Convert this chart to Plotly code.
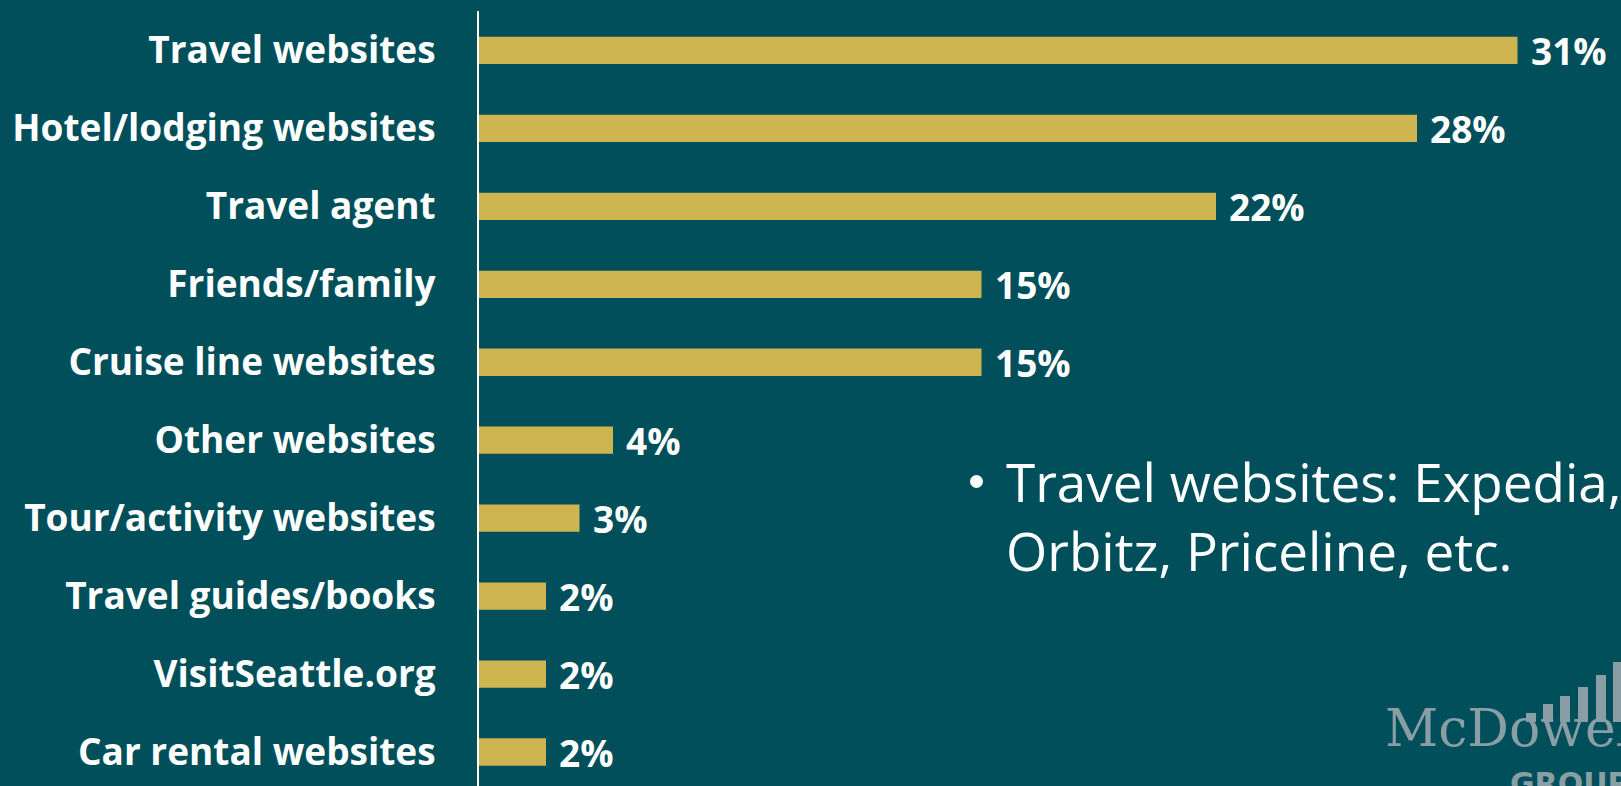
import plotly.graph_objects as go

categories = ["Travel websites", "Hotel/lodging websites", "Travel agent", "Friends/family",
              "Cruise line websites", "Other websites", "Tour/activity websites",
              "Travel guides/books", "VisitSeattle.org", "Car rental websites"]
values = [31, 28, 22, 15, 15, 4, 3, 2, 2, 2]
value_labels = ["31%", "28%", "22%", "15%", "15%", "4%", "3%", "2%", "2%", "2%"]

W, H = 1621, 786
ML, MR, MT, MB = 479, 0, 11, 0
BG = "#004F5A"
BAR = "#CFB54F"
LOGO = "#8A9EA5"
FONT = "Open Sans"

def px(x):
    return (x - ML) / (W - ML - MR)

def py(y):
    return 1 - (y - MT) / (H - MT - MB)

fig = go.Figure()
fig.add_trace(go.Bar(
    x=values, y=categories, orientation="h",
    marker=dict(color=BAR, line=dict(width=0)),
    hoverinfo="skip",
))

annotations = []
for c, v, t in zip(categories, values, value_labels):
    annotations.append(dict(x=v, y=c, xref="x", yref="y", text="<b>%s</b>" % t,
                            showarrow=False, xanchor="left", yanchor="middle", xshift=11,
                            font=dict(family=FONT, size=37, color="white")))

# bullet text
annotations.append(dict(x=px(1004), y=py(516), xref="paper", yref="paper",
                        text="Travel websites: Expedia,<br>Orbitz, Priceline, etc.",
                        showarrow=False, xanchor="left", yanchor="middle", align="left",
                        font=dict(family=FONT, size=53, color="white")))

# logo
annotations.append(dict(x=px(1383), y=py(760), xref="paper", yref="paper", text="McDowell",
                        showarrow=False, xanchor="left", yanchor="bottom",
                        font=dict(family="DejaVu Serif", size=52, color=LOGO)))
annotations.append(dict(x=px(1508), y=py(764), xref="paper", yref="paper", text="<b>GROUP</b>",
                        showarrow=False, xanchor="left", yanchor="top",
                        font=dict(family="DejaVu Sans", size=30, color=LOGO)))

shapes = [dict(type="circle", xref="paper", yref="paper",
               x0=px(970), x1=px(983), y0=py(488), y1=py(475),
               fillcolor="white", line=dict(width=0))]
bars_px = [(1526, 713), (1543, 704), (1560, 696), (1578, 687), (1596, 675), (1613, 662)]
for (bx, by) in bars_px:
    shapes.append(dict(type="rect", xref="paper", yref="paper",
                       x0=px(bx), x1=px(bx + 10), y0=py(722), y1=py(by),
                       fillcolor=LOGO, line=dict(width=0), layer="above"))

fig.update_layout(
    width=W, height=H,
    margin=dict(l=ML, r=MR, t=MT, b=MB, pad=0),
    paper_bgcolor=BG, plot_bgcolor=BG,
    bargap=0.65,
    showlegend=False,
    annotations=annotations,
    shapes=shapes,
    xaxis=dict(range=[0, (W - ML - MR) / 33.5], visible=False, showgrid=False, zeroline=False),
    yaxis=dict(categoryorder="array", categoryarray=categories,
               range=[9.436, -0.506], showgrid=False, zeroline=False,
               showline=True, linecolor="white", linewidth=2,
               ticks="", ticklabelstandoff=34,
               tickfont=dict(family=FONT, size=37, color="white", weight="bold")),
)

fig.write_html("out.html", config={"displayModeBar": False},
               post_script="document.body.style.margin='0';document.body.style.background='%s';" % BG)
